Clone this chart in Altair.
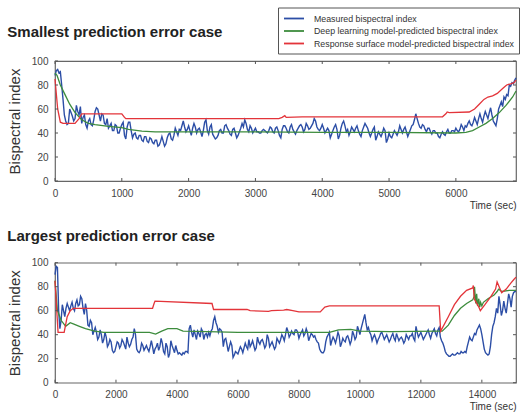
import altair as alt
import pandas as pd

SERIES = [
    "Measured bispectral index",
    "Deep learning model-predicted bispectral index",
    "Response surface model-predicted bispectral index",
]
COLORS = ["#2c4ea6", "#3d8c3d", "#e3343a"]
FONT = "Liberation Sans"

# ---- Smallest prediction error case -------------------------------------
# measured BIS, one reading every 20 s
TOP_STEP = 20
top_measured = [
    88, 92, 93, 90, 91, 80, 68, 55, 50, 47, 48, 60, 57, 54, 50, 52, 63, 58, 55, 62,
    48, 53, 55, 47, 44, 50, 52, 47, 46, 51, 58, 61, 60, 55, 50, 56, 55, 48, 47, 52,
    44, 46, 48, 42, 42, 47, 46, 40, 40, 44, 47, 49, 38, 35, 45, 49, 49, 42, 36, 39,
    40, 36, 35, 38, 38, 34, 33, 37, 37, 33, 32, 36, 35, 32, 31, 34, 34, 29, 30, 33,
    37, 33, 29, 31, 36, 39, 40, 35, 34, 38, 44, 41, 38, 43, 42, 46, 50, 45, 41, 43,
    46, 42, 38, 44, 48, 45, 40, 43, 44, 41, 37, 42, 49, 51, 42, 39, 45, 47, 39, 37,
    35, 36, 38, 42, 43, 40, 40, 46, 47, 44, 42, 39, 38, 43, 44, 40, 36, 38, 41, 44,
    48, 45, 51, 48, 43, 41, 46, 44, 40, 42, 44, 41, 41, 40, 40, 42, 43, 42, 41, 40,
    42, 45, 44, 41, 40, 44, 45, 42, 38, 36, 43, 46, 46, 44, 41, 40, 45, 47, 43, 41,
    39, 42, 44, 46, 47, 45, 41, 43, 48, 46, 43, 44, 46, 48, 52, 50, 45, 43, 42, 44,
    47, 44, 40, 42, 44, 42, 36, 39, 42, 45, 47, 43, 35, 38, 44, 48, 50, 46, 41, 43,
    38, 41, 45, 43, 41, 44, 46, 42, 39, 37, 42, 45, 48, 46, 44, 40, 37, 40, 43, 45,
    34, 37, 41, 39, 37, 40, 44, 42, 32, 35, 40, 37, 36, 39, 42, 40, 38, 41, 46, 43,
    40, 43, 45, 41, 37, 40, 43, 46, 47, 51, 56, 52, 48, 45, 44, 47, 46, 43, 41, 44,
    44, 41, 39, 42, 42, 40, 40, 37, 36, 39, 41, 39, 38, 41, 43, 40, 40, 42, 42, 41,
    44, 42, 41, 43, 47, 45, 42, 46, 45, 48, 50, 47, 46, 49, 53, 50, 47, 52, 56, 52,
    49, 54, 58, 55, 52, 57, 61, 55, 50, 48, 46, 52, 60, 63, 66, 62, 70, 68, 72, 71,
    80, 79, 82, 81, 84, 86,
]
top_deep_t = [0, 30, 80, 150, 220, 300, 400, 500, 600, 800, 1000, 1100, 1300,
              1500, 2000, 3000, 4000, 5000, 6000, 6150, 6250, 6350, 6450, 6550,
              6650, 6750, 6850, 6900]
top_deep_v = [90, 88, 80, 72, 64, 57, 51, 48, 47, 45.5, 44.5, 43, 41.5,
              41, 41, 41, 40.5, 40.5, 40, 40.5, 42, 45, 48, 52,
              57, 63, 70, 75]
top_resp_t = [0, 40, 80, 120, 300, 360, 400, 1000, 1040, 1060, 3350, 3400, 3440,
              3460, 3700, 5800, 5850, 5870, 5900, 6200, 6280, 6350, 6420, 6480,
              6550, 6620, 6700, 6760, 6820, 6870, 6900]
top_resp_v = [85, 60, 49, 48, 48, 52, 56, 56, 53, 52, 52, 53, 54.5,
              53, 53.5, 53.5, 56, 57.5, 57, 57.5, 60, 64, 68, 70,
              71, 73, 77, 80, 81, 82, 84]
top_x_ticks = [0, 1000, 2000, 3000, 4000, 5000, 6000]
TOP_X_MAX = 6900

# ---- Largest prediction error case --------------------------------------
# measured BIS, one reading every 40 s
BOTTOM_STEP = 40
bottom_measured = [
    90, 97, 96, 60, 45, 52, 65, 60, 55, 62, 66, 63, 60, 64, 67, 62, 60, 66, 69, 64,
    65, 72, 70, 62, 57, 66, 60, 48, 47, 52, 50, 40, 43, 46, 42, 36, 38, 44, 40, 33,
    36, 42, 38, 30, 32, 36, 34, 27, 25, 26, 30, 34, 33, 29, 31, 36, 34, 31, 28, 38,
    33, 30, 32, 36, 38, 45, 40, 28, 26, 25, 27, 33, 31, 27, 29, 31, 28, 26, 30, 35,
    30, 24, 28, 30, 33, 27, 30, 37, 33, 26, 24, 33, 30, 21, 24, 35, 31, 28, 25, 31,
    27, 24, 25, 24, 23, 25, 24, 26, 26, 25, 45, 48, 42, 38, 44, 40, 36, 43, 41, 38,
    45, 43, 36, 40, 41, 38, 42, 39, 43, 45, 52, 55, 50, 47, 42, 45, 44, 42, 30, 36,
    37, 32, 26, 30, 34, 31, 21, 23, 26, 25, 24, 27, 30, 28, 25, 29, 33, 30, 28, 36,
    30, 32, 35, 31, 27, 29, 38, 34, 32, 35, 36, 33, 29, 31, 40, 37, 30, 32, 34, 31,
    28, 30, 37, 35, 33, 36, 40, 38, 35, 40, 46, 43, 38, 40, 43, 41, 40, 44, 44, 42,
    37, 40, 42, 44, 39, 41, 45, 42, 35, 38, 41, 40, 38, 39, 36, 34, 33, 28, 26, 25,
    25, 27, 34, 38, 40, 42, 31, 35, 38, 36, 33, 37, 42, 39, 30, 33, 37, 35, 34, 38,
    39, 36, 32, 35, 43, 40, 36, 38, 47, 44, 40, 45, 49, 53, 57, 50, 44, 46, 42, 40,
    35, 38, 40, 37, 33, 36, 38, 41, 42, 39, 36, 38, 40, 37, 34, 36, 39, 41, 37, 35,
    41, 38, 35, 37, 38, 36, 33, 35, 40, 38, 36, 39, 39, 41, 37, 35, 47, 42, 38, 40,
    42, 39, 36, 38, 40, 42, 44, 40, 37, 41, 43, 45, 41, 39, 44, 46, 38, 35, 33, 30,
    26, 24, 23, 22, 22, 23, 24, 23, 23, 24, 25, 24, 24, 26, 25, 25, 26, 25, 30, 34,
    38, 36, 35, 38, 41, 40, 44, 46, 48, 45, 40, 34, 28, 25, 24, 23, 24, 30, 40, 47,
    50, 55, 62, 58, 72, 65, 56, 60, 68, 62, 58, 66, 74, 70, 63, 72, 75, 76, 76,
]
bottom_deep_t = [0, 80, 200, 350, 500, 600, 800, 1000, 1300, 1600, 3100, 3300,
                 3500, 3700, 4000, 4200, 5000, 6000, 8500, 9000, 9300, 9700,
                 10000, 11000, 12600, 12700, 12900, 13100, 13300, 13500, 13700,
                 13750, 13760, 13800, 13830, 13860, 13900, 13930, 13960, 14000,
                 14050, 14200, 14400, 14500, 14550, 14650, 14900, 15120]
bottom_deep_v = [85, 60, 52, 47, 50, 49, 47, 45, 43, 42, 42, 40.5,
                 43, 45, 45, 43, 42.5, 42, 42, 42, 44, 44.5,
                 43, 42.5, 43, 43, 48, 56, 62, 66, 69,
                 72, 80, 66, 74, 64, 70, 63, 67, 64,
                 67, 70, 73, 76, 78, 76, 77, 77]
bottom_resp_t = [0, 100, 300, 400, 500, 600, 3200, 3250, 3280, 5150, 5200, 6300,
                 6400, 7000, 7100, 7500, 7600, 7800, 8000, 8700, 8850, 9000,
                 12600, 12650, 12900, 13100, 13300, 13500, 13700, 13720, 13750,
                 13900, 13950, 14100, 14300, 14450, 14500, 14650, 14800, 14950,
                 15050, 15120]
bottom_resp_v = [85, 42, 42, 55, 60, 62, 62, 66, 68, 66, 61, 61,
                 60, 59.5, 60, 60.5, 61, 60, 59, 59, 63, 64,
                 64, 43, 55, 65, 72, 77, 79, 81, 70,
                 63, 60, 65, 72, 78, 84, 75, 78, 83,
                 86, 88]
bottom_x_ticks = [0, 2000, 4000, 6000, 8000, 10000, 12000, 14000]
BOTTOM_X_MAX = 15120

y_ticks = [0, 20, 40, 60, 80, 100]

PLOT_W = 461
PLOT_H = 120

# one shared legend, boxed, above the top-right corner of the first panel;
# the stroke symbol is a custom path twice as wide as its nominal size
legend = alt.Legend(
    title=None, orient="none", legendX=223, legendY=-53.5,
    direction="vertical", fillColor="white", strokeColor="#555",
    padding=5, labelFontSize=8.8, labelFont=FONT, labelColor="#333",
    labelLimit=400, labelOffset=14, symbolOffset=5,
    symbolType="M-2,0H2", symbolStrokeWidth=1.8, symbolSize=100,
    symbolFillColor="transparent", rowPadding=1.5,
)


def frame(times, values, name):
    return pd.DataFrame({"t": times, "bis": values, "series": name})


def panel(measured, step, deep_t, deep_v, resp_t, resp_v, x_max, x_ticks,
          title, title_offset):
    x_scale = alt.Scale(domain=[0, x_max], nice=False, zero=False)
    y_scale = alt.Scale(domain=[0, 100], nice=False)
    x = alt.X(
        "t:Q", scale=x_scale,
        axis=alt.Axis(values=x_ticks, title="Time (sec)", titleAnchor="end",
                      grid=False, ticks=False, domain=False, labelFlush=False,
                      labelPadding=7, titlePadding=2, format="d"),
    )
    y = alt.Y(
        "bis:Q", scale=y_scale,
        axis=alt.Axis(values=y_ticks, title="Bispectral index", grid=False,
                      ticks=False, domain=False, labelFlush=False,
                      labelPadding=7, titlePadding=9),
    )
    color = alt.Color("series:N", scale=alt.Scale(domain=SERIES, range=COLORS),
                      legend=legend)

    measured_t = [i * step for i in range(len(measured))]
    lines = [
        alt.Chart(frame(measured_t, measured, SERIES[0]))
        .mark_line(strokeWidth=1.4)
        .encode(x=x, y=y, color=color),
        alt.Chart(frame(deep_t, deep_v, SERIES[1]))
        .mark_line(strokeWidth=1.3)
        .encode(x=x, y=y, color=color),
        alt.Chart(frame(resp_t, resp_v, SERIES[2]))
        .mark_line(strokeWidth=1.3)
        .encode(x=x, y=y, color=color),
    ]

    # short inward tick marks on all four sides of the frame
    xt = pd.DataFrame({"t": x_ticks})
    yt = pd.DataFrame({"bis": y_ticks})
    tick_style = dict(color="#555", strokeWidth=1)
    ticks = [
        alt.Chart(xt).mark_rule(**tick_style).encode(
            x=x, y=alt.value(0), y2=alt.value(3)),
        alt.Chart(xt).mark_rule(**tick_style).encode(
            x=x, y=alt.value(PLOT_H - 3), y2=alt.value(PLOT_H)),
        alt.Chart(yt).mark_rule(**tick_style).encode(
            y=y, x=alt.value(0), x2=alt.value(3)),
        alt.Chart(yt).mark_rule(**tick_style).encode(
            y=y, x=alt.value(PLOT_W - 3), x2=alt.value(PLOT_W)),
    ]

    return alt.layer(*lines, *ticks).properties(
        width=PLOT_W,
        height=PLOT_H,
        title=alt.TitleParams(title, anchor="start", offset=title_offset,
                              fontSize=15, fontWeight="bold", font=FONT,
                              color="#222"),
    )


top = panel(top_measured, TOP_STEP, top_deep_t, top_deep_v, top_resp_t,
            top_resp_v, TOP_X_MAX, top_x_ticks,
            "Smallest prediction error case", 16.5)
bottom = panel(bottom_measured, BOTTOM_STEP, bottom_deep_t, bottom_deep_v,
               bottom_resp_t, bottom_resp_v, BOTTOM_X_MAX, bottom_x_ticks,
               "Largest prediction error case", 13.8)

chart = (
    alt.vconcat(top, bottom, spacing=16.7)
    .properties(padding={"left": 6, "top": 7, "right": 2, "bottom": 2},
                background="white")
    .configure_view(stroke="#666", strokeWidth=1.2)
    .configure_axis(labelFont=FONT, labelFontSize=10, labelColor="#444",
                    titleFont=FONT, titleColor="#333", titleFontWeight="normal")
    .configure_axisY(titleFontSize=15)
    .configure_axisX(titleFontSize=10)
)

chart.save("out.html", embed_options={"renderer": "svg", "actions": False})
